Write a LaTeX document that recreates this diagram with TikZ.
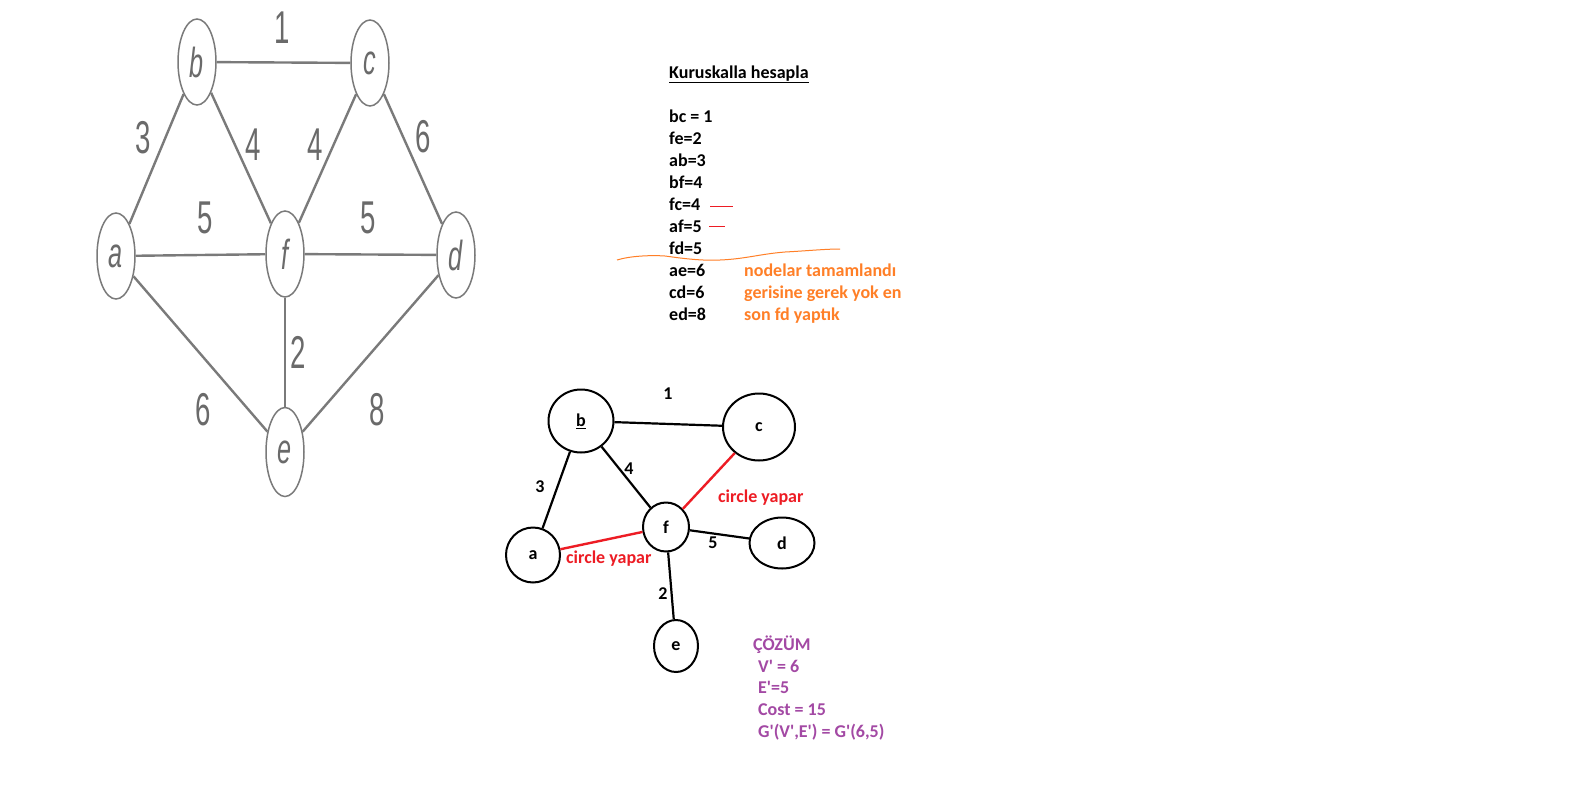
\documentclass[tikz,border=0pt]{standalone}
\usepackage{fontspec}
\usepackage{graphicx}
\setmainfont{Carlito}[BoldFont={Carlito Bold}]
\newfontfamily\arialf{Liberation Sans}
\usetikzlibrary{shapes.geometric}
\definecolor{gline}{HTML}{7A7A7A}
\definecolor{gtext}{HTML}{6A6A6A}
\definecolor{pred}{HTML}{ED1C24}
\definecolor{porange}{HTML}{FF7F27}
\definecolor{ppurple}{HTML}{A349A4}
\newcommand\narrowtxt[1]{\scalebox{0.6}[1]{#1}}
\newcommand\qt{\textquotesingle}
\begin{document}
\begin{tikzpicture}[x=1pt,y=-1pt,
  gnode/.style={ellipse, draw=gline, line width=1.5pt, minimum width=38pt, minimum height=86pt, inner sep=0pt, text=gtext, font=\arialf\itshape\fontsize{42}{42}\selectfont},
  gedge/.style={draw=gline, line width=2.4pt},
  glabel/.style={text=gtext, font=\arialf\fontsize{46}{46}\selectfont, inner sep=0pt},
  bnode/.style={ellipse, draw=black, line width=2pt, inner sep=0pt, font=\bfseries\fontsize{18}{21}\selectfont},
  bedge/.style={draw=black, line width=2.2pt},
  redge/.style={draw=pred, line width=2.4pt},
  blabel/.style={font=\bfseries\fontsize{18}{21}\selectfont, inner sep=0pt},
  txt/.style={anchor=base west, inner sep=0pt, font=\bfseries\fontsize{18}{21}\selectfont},
]
\useasboundingbox (0,0) rectangle (1596,785);
\fill[white] (0,0) rectangle (1596,785);

% ---------- left graph ----------
\node[gnode] (a) at (116,256) {\narrowtxt{a}};
\node[gnode] (b) at (197,62) {\narrowtxt{b}};
\node[gnode] (c) at (370,63) {\narrowtxt{c}};
\node[gnode] (d) at (456,255) {\narrowtxt{d}};
\node[gnode] (f) at (285,254) {\narrowtxt{f}};
\node[gnode, minimum height=89pt] (e) at (285,452) {\narrowtxt{e}};

\draw[gedge] (b) -- (c);
\draw[gedge] (a) -- (b);
\draw[gedge] (b) -- (f);
\draw[gedge] (f) -- (c);
\draw[gedge] (c) -- (d);
\draw[gedge] (a) -- (f);
\draw[gedge] (f) -- (d);
\draw[gedge] (f) -- (e);
\draw[gedge] (a) -- (e);
\draw[gedge] (e) -- (d);

\node[glabel] (l1) at (282,28) {\narrowtxt{1}};
\node[glabel] (l3) at (143,138) {\narrowtxt{3}};
\node[glabel] (l4a) at (253,145) {\narrowtxt{4}};
\node[glabel] (l4b) at (315,145) {\narrowtxt{4}};
\node[glabel] (l6a) at (423,137) {\narrowtxt{6}};
\node[glabel] (l5a) at (205,218) {\narrowtxt{5}};
\node[glabel] (l5b) at (368,218) {\narrowtxt{5}};
\node[glabel] (l2) at (298,352) {\narrowtxt{2}};
\node[glabel] (l6b) at (203,410) {\narrowtxt{6}};
\node[glabel] (l8) at (377,410) {\narrowtxt{8}};

% ---------- list ----------
\node[txt] (title) at (669,78) {\underline{Kuruskalla hesapla}};
\node[txt] (t1) at (669,122) {bc = 1};
\node[txt] (t2) at (669,144) {fe=2};
\node[txt] (t3) at (669,166) {ab=3};
\node[txt] (t4) at (669,188) {bf=4};
\node[txt] (t5) at (669,210) {fc=4};
\node[txt] (t6) at (669,232) {af=5};
\node[txt] (t7) at (669,254) {fd=5};
\node[txt] (t8) at (669,276) {ae=6};
\node[txt] (t9) at (669,298) {cd=6};
\node[txt] (t10) at (669,320) {ed=8};
\node[txt, text=porange] (o1) at (744,276) {nodelar tamamlandı};
\node[txt, text=porange] (o2) at (744,298) {gerisine gerek yok en};
\node[txt, text=porange] (o3) at (744,320) {son fd yaptık};

\draw[pred, line width=1pt] (710,206) -- (733,206);
\draw[pred, line width=1pt] (709,226) -- (725,226);
\draw[porange, line width=1pt] (617,260) .. controls (630,256) and (650,255) .. (665,256)
  .. controls (680,258) and (700,261) .. (720,260)
  .. controls (745,259) and (760,254) .. (785,252)
  .. controls (805,251) and (825,249) .. (840,249);

% ---------- bottom graph ----------
\node[bnode, minimum width=65pt, minimum height=63pt] (B) at (581,421) {\underline{b}};
\node[bnode, minimum width=72pt, minimum height=67pt] (C) at (759,427) {c};
\node[bnode, minimum width=54pt, minimum height=55pt] (A) at (533,555) {a};
\node[bnode, minimum width=46pt, minimum height=49pt] (F) at (666,527) {f};
\node[bnode, minimum width=65pt, minimum height=51pt] (D) at (782,543) {d};
\node[bnode, minimum width=44pt, minimum height=52pt] (E) at (676,646) {e};

\draw[bedge] (B) -- (C);
\draw[bedge] (B) -- (A);
\draw[bedge] (B) -- (F);
\draw[bedge] (F) -- (D);
\draw[bedge] (F) -- (E);
\draw[redge] (C) -- (F);
\draw[redge] (A) -- (F);

\node[blabel] (m1) at (668,394) {1};
\node[blabel] (m3) at (540,487) {3};
\node[blabel] (m4) at (629,469) {4};
\node[blabel] (m5) at (713,543) {5};
\node[blabel] (m2) at (663,594) {2};
\node[txt, text=pred] (r1) at (718,502) {circle yapar};
\node[txt, text=pred] (r2) at (566,563) {circle yapar};

% ---------- solution ----------
\node[txt, text=ppurple] (s0) at (753,650) {ÇÖZÜM};
\node[txt, text=ppurple] (s1) at (758,672) {V\qt{} = 6};
\node[txt, text=ppurple] (s2) at (758,693) {E\qt=5};
\node[txt, text=ppurple] (s3) at (758,715) {Cost = 15};
\node[txt, text=ppurple] (s4) at (758,737) {G\qt(V\qt,E\qt) = G\qt(6,5)};
\end{tikzpicture}
\end{document}
